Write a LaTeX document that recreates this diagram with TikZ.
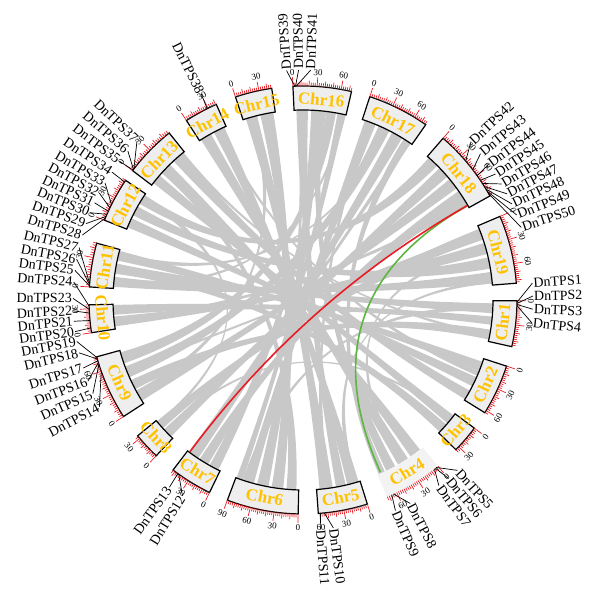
\documentclass[tikz,border=0pt]{standalone}
\usepackage{fontspec}
\setmainfont{Liberation Serif}
\definecolor{chrgold}{RGB}{255,194,0}
\definecolor{tickred}{RGB}{232,28,36}
\definecolor{linkgray}{RGB}{200,200,200}
\definecolor{boxgray}{RGB}{238,238,238}
\definecolor{hlgray}{RGB}{243,243,243}
\definecolor{synred}{RGB}{232,28,36}
\definecolor{syngreen}{RGB}{92,182,64}
\tikzset{
  chrbox/.style={draw=black, fill=boxgray, line width=1.2pt},
  chrhl/.style={fill=hlgray},
  chrname/.style={text=chrgold, font=\fontsize{17}{17}\selectfont\bfseries, inner sep=0pt},
  tickmark/.style={draw=tickred, line width=0.7pt},
  ticknum/.style={font=\fontsize{9}{9}\selectfont, inner sep=0.5pt},
  geneline/.style={draw=black, line width=0.7pt},
  genename/.style={font=\fontsize{14}{14}\selectfont, inner sep=1pt},
  ribbon/.style={fill=linkgray},
}

\begin{document}
\begin{tikzpicture}[x=1pt,y=1pt]
\useasboundingbox (-303,-302) rectangle (297,300);

\foreach \a/\b/\c/\d in {
  91/94/278/281, 95/97.5/265.5/268.5, 99/102/242/245,
  81.5/85/274/277, 77/80.5/296.5/299.5, 72.5/76/262/265, 68/71.5/227.5/230.3,
  41.5/45/300.5/303.5, 46/49.5/224/227, 50.5/54/238/241, 55/59/210/213,
  19/22.5/195/198, 23.5/27/246/249.5, 28/31.5/213.5/217, 32/34.5/154.5/156.5,
  -2/1.5/167/170, 2.5/6/190.5/194, 7/10/250.5/254, 10.5/12.8/198.5/200.5,
  342.5/346/171/175, 347/351/186/189.5, 327.5/331/146.5/150, 332/335.5/163/166.5,
  308/311/127.5/130.5, 312/315.5/142/145.5, 317/320.5/118.5/121.5,
  292.5/295.5/114/117, 282/285/109/112, 131/134/278/281, 151/154/4/6.5,
  182/185/312/314, 206.5/209.5/5/7, 100/101/320/321, 68.5/70/248/249,
  59/60.5/263/264.5, 112/113.5/333/334, 26/27/283/284.5, 12/13/275/276.5,
  344/345.5/240/241.5, 197/198.5/92/93.5, 163.5/165/84/85, 148/149.5/73/74.5,
  128/129/226/227, 229/230/302/303.5, 188/189/-1/0.5, 214/215.5/33/34.5,
  172/173.5/19.5/21}
  \fill[ribbon] ({90-(\a)}:190) arc[start angle={90-(\a)}, end angle={90-(\b)}, radius=190]
    .. controls ({90-(\b)}:63) and ({90-(\c)}:63) .. ({90-(\c)}:190)
    arc[start angle={90-(\c)}, end angle={90-(\d)}, radius=190]
    .. controls ({90-(\d)}:63) and ({90-(\a)}:63) .. cycle;

\foreach \n/\s/\e/\L/\st in {
  1/90.2/102.6/57/chrbox, 2/108/121.8/63/chrbox, 3/126.8/134.4/35/chrbox,
  4/140.9/156.9/73/chrhl, 5/162.5/175.9/62/chrbox, 6/181.3/200.7/90/chrbox,
  7/205.9/217.4/53/chrbox, 8/223.3/230.6/34/chrbox, 9/237/254.6/78/chrbox,
  10/261.2/268.7/35/chrbox, 11/273.5/285.4/45/chrbox, 12/291.9/304/55/chrbox,
  13/307.2/321.3/59/chrbox, 14/327/336.1/41/chrbox, 15/341.6/351.6/46/chrbox,
  16/-2.7/13.1/73/chrbox, 17/18.2/35/76/chrbox, 18/40.9/60.9/89/chrbox,
  19/67/85.5/84/chrbox}
{
  \path[\st] ({90-(\s)}:190) arc[start angle={90-(\s)}, end angle={90-(\e)}, radius=190]
    -- ({90-(\e)}:214) arc[start angle={90-(\e)}, end angle={90-(\s)}, radius=214] -- cycle;
  \pgfmathsetmacro{\m}{(\s+\e)/2}
  \pgfmathsetmacro{\rot}{(\m>90 && \m<270) ? 180-\m : -\m}
  \node[chrname, rotate=\rot] (c\n) at ({90-\m}:201) {Chr\n};
  \pgfmathsetmacro{\k}{(\e-\s)/\L}
  \foreach \v in {0,2.5,...,\L} {
    \pgfmathsetmacro{\ro}{214+(mod(\v,30)==0 ? 9 : (mod(\v,10)==0 ? 5.5 : 3.5))}
    \draw[tickmark] ({90-(\s)-\v*\k}:214) -- ({90-(\s)-\v*\k}:\ro);
  }
  \foreach \v in {0,30,60,90} {
    \ifnum\v>\L\else
      \pgfmathsetmacro{\t}{\s+\v*\k}
      \pgfmathsetmacro{\tr}{(\t>90 && \t<270) ? 180-\t : -\t}
      \node[ticknum, rotate=\tr] (t\n-\v) at ({90-\t}:228) {\v};
    \fi
  }
}

\foreach \i/\g/\l in {
  1/90.6/85.8, 2/90.9/89, 3/91.2/92.3, 4/91.5/95.7,
  5/141.5/137.8, 6/141.8/140.8, 7/142.1/143.8, 8/155/152.2, 9/155.5/156.3,
  10/174.3/172.4, 11/175.3/175.6, 12/215.5/211.6, 13/215.8/215.5,
  14/250.5/242.3, 15/252.5/246, 16/253/249.3, 17/253.5/252.8, 18/254/256.7,
  19/254.4/259.6, 20/262.5/262.1, 21/264.5/264.7, 22/266.5/267.3, 23/267.5/270.4,
  24/268.4/274.5, 25/273.8/277.4, 26/274.1/280.2, 27/274.4/283.2,
  28/292.5/286.4, 29/293/289.4, 30/293.6/292.3, 31/294.5/295, 32/295.5/297.7,
  33/296.5/300.6, 34/303.5/303.8, 35/307.4/307.1, 36/307.6/310.4, 37/307.8/313.8,
  38/333.4/333.7, 39/-2.2/-4.1, 40/-2/-1.1, 41/-1.8/1.9,
  42/49.5/46.8, 43/52.5/50.5, 44/54.5/53.8, 45/56/56.8, 46/57/59.7,
  47/58/62.5, 48/58.8/65.3, 49/59.5/68.3, 50/60.2/71.6}
{
  \coordinate (p\i) at ({90-(\g)}:214);
  \ifdim \l pt<180pt
    \node[genename, rotate={90-(\l)}, anchor=west] (g\i) at ({90-(\l)}:230) {DnTPS\i};
    \draw[geneline] (p\i) -- (g\i.west);
  \else
    \node[genename, rotate={270-(\l)}, anchor=east] (g\i) at ({90-(\l)}:230) {DnTPS\i};
    \draw[geneline] (p\i) -- (g\i.east);
  \fi
}

\coordinate (s18) at ({90-60.1}:189);
\coordinate (s7) at ({90-216.7}:189);
\coordinate (s4) at ({90-155.8}:189);
\draw[syngreen, line width=1.6pt] (s18) .. controls ({90-60.1}:63) and ({90-155.8}:63) .. (s4);
\draw[synred, line width=1.6pt] (s18) .. controls ({90-60.1}:63) and ({90-216.7}:63) .. (s7);

\end{tikzpicture}
\end{document}
